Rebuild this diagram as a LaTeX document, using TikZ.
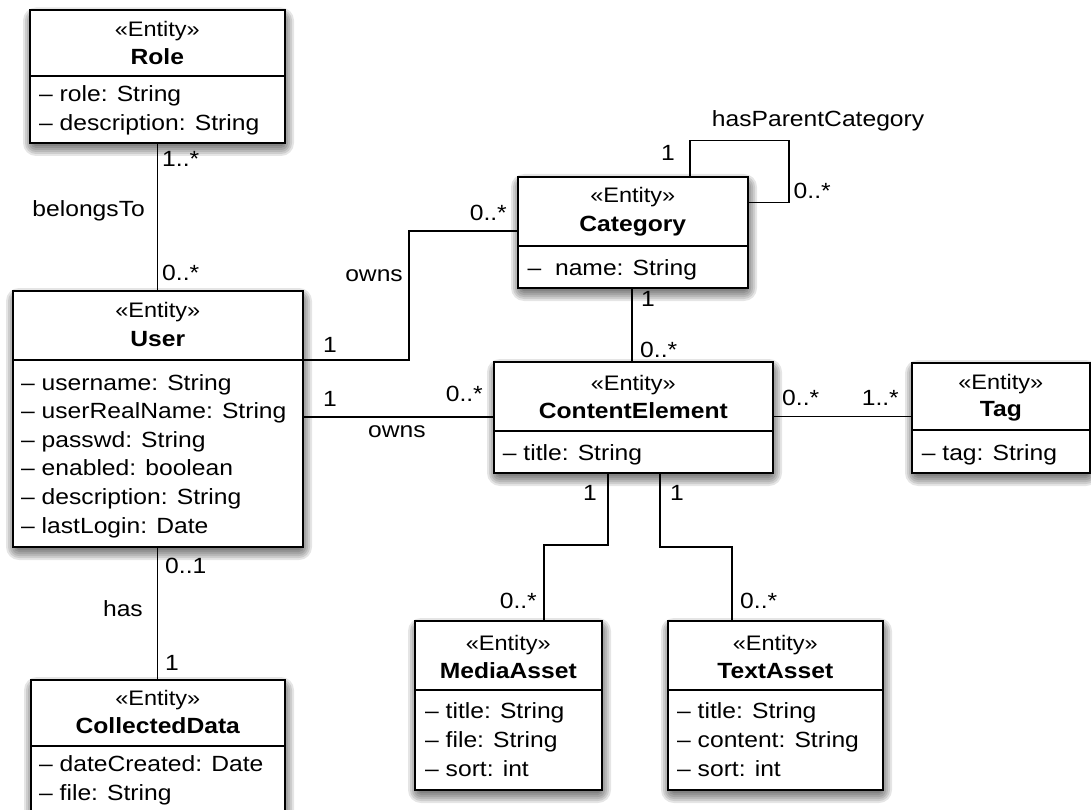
\documentclass[tikz,border=0pt]{standalone}
\usepackage{fontspec}
\setmainfont{Liberation Sans}[FakeStretch=1.12]

\pgfdeclarelayer{background}
\pgfsetlayers{background,main}

\tikzset{
  clsbox/.style={draw=black, line width=1.6pt, fill=white, inner sep=0pt},
  softshade/.style={fill=black, opacity=0.1},
  divline/.style={line width=1.6pt},
  assoc/.style={line width=1.3pt},
  txt/.style={inner sep=0pt, font=\fontsize{22}{26}\selectfont},
  stereo/.style={inner sep=0pt, font=\fontsize{21}{25}\selectfont, anchor=base},
  cname/.style={inner sep=0pt, font=\fontsize{22}{26}\selectfont\bfseries, anchor=base},
}

% box with a soft drop shadow: name, x1, y1, x2, y2, divider y
\newcommand\classbox[6]{%
  \foreach \d in {-4,-2,0,2,4,6,8}
    \fill[softshade, rounded corners={(\d+5)*1pt}]
      ({#2+2-\d},{#3+6-\d}) rectangle ({#4+2+\d},{#5+6+\d});
  \node[clsbox, minimum width={#4pt-#2pt}, minimum height={#5pt-#3pt},
        anchor=north west] (#1) at (#2,#3) {};
  \draw[divline] (#1.west |- 0,#6) -- (#1.east |- 0,#6);
}
% head: name, title, stereotype baseline, title baseline
\newcommand\classhead[4]{%
  \node[stereo] (#1-st) at (#1.north |- 0,#3) {«Entity»};
  \node[cname] (#1-nm) at (#1.north |- 0,#4) {#2};
}
% attributes: name, x, first baseline, line step, list
\newcommand\classattrs[5]{%
  \foreach \a [count=\i] in {#5}
    \node[txt, anchor=base west] (#1-a\i) at (#2,{#3+(\i-1)*#4}) {\textendash\ \a};
}

\begin{document}
\begin{tikzpicture}[x=1pt,y=-1pt]
  \begin{pgfonlayer}{background}
    \path[use as bounding box, fill=white] (0,0) rectangle (1091,810);
  \end{pgfonlayer}
  \clip (0,0) rectangle (1091,810);

  % ---------- classes ----------
  \classbox{role}{29}{9.5}{284}{142}{76}
  \classhead{role}{Role}{36.7}{65}
  \classattrs{role}{39}{101.7}{29}{role: String, description: String}

  \classbox{user}{12}{290}{302}{546}{360}
  \classhead{user}{User}{317.7}{346.7}
  \classattrs{user}{21}{390}{28.6}{username: String, userRealName: String,
    passwd: String, enabled: boolean, description: String, lastLogin: Date}

  \classbox{collected}{30}{679}{284}{850}{746}
  \classhead{collected}{CollectedData}{705}{733}
  \classattrs{collected}{39}{771.7}{28.5}{dateCreated: Date, file: String}

  \classbox{category}{517}{176}{747}{287}{246}
  \classhead{category}{Category}{203}{231.7}
  \node[txt, anchor=base west] (category-a1) at (527.5,275) {\textendash\ \ name: String};

  \classbox{content}{493}{361}{772}{472}{431}
  \classhead{content}{ContentElement}{390}{418}
  \classattrs{content}{502.7}{460}{28.6}{title: String}

  \classbox{tag}{911}{362}{1089}{472}{430}
  \classhead{tag}{Tag}{389.5}{416}
  \classattrs{tag}{921.7}{460}{28.6}{tag: String}

  \classbox{media}{414}{620}{601}{789}{690}
  \classhead{media}{MediaAsset}{650}{678.3}
  \classattrs{media}{425}{718.3}{29.2}{title: String, file: String, sort: int}

  \classbox{textasset}{667}{620}{882}{789}{690}
  \classhead{textasset}{TextAsset}{650}{678.3}
  \classattrs{textasset}{677}{718.3}{29.2}{title: String, content: String, sort: int}

  % ---------- associations (beneath the boxes and their shadows) ----------
  \begin{pgfonlayer}{background}
    \draw[assoc] (role.south -| user.north) -- (user.north);
    \draw[assoc] (user.south) -- (collected.north);
    \draw[assoc] (user.east |- 0,360) -| (409,231) -- (category.west |- 0,231);
    \draw[assoc] (user.east |- 0,417) -- (content.west |- 0,417);
    \draw[assoc] (category.south -| 632,0) -- (content.north -| 632,0);
    \draw[assoc] (category.north -| 690,0) |- (789,140.7) |- (category.east |- 0,202.7);
    \draw[assoc] (content.east |- 0,416.7) -- (tag.west |- 0,416.7);
    \draw[assoc] (content.south -| 608,0) |- (544,545) -- (media.north -| 544,0);
    \draw[assoc] (content.south -| 660,0) |- (732,547) -- (textasset.north -| 732,0);
  \end{pgfonlayer}

  % ---------- association labels ----------
  \node[txt, anchor=base west] (m1) at (162,167) {1..*};
  \node[txt, anchor=base west] (m2) at (162,280) {0..*};
  \node[txt, anchor=base east] (r1) at (145,216.7) {belongsTo};

  \node[txt, anchor=base west] (m3) at (165,573) {0..1};
  \node[txt, anchor=base east] (r2) at (143,616) {has};
  \node[txt, anchor=base west] (m4) at (165,670) {1};

  \node[txt, anchor=base west] (m5) at (323,352.7) {1};
  \node[txt, anchor=base east] (m6) at (507,220.7) {0..*};
  \node[txt, anchor=base east] (r3) at (403,281.7) {owns};

  \node[txt, anchor=base west] (m7) at (323,406.7) {1};
  \node[txt, anchor=base east] (m8) at (483,401.7) {0..*};
  \node[txt, anchor=base] (r4) at (397,437.3) {owns};

  \node[txt, anchor=base west] (m9) at (641,306.7) {1};
  \node[txt, anchor=base west] (m10) at (640,357.3) {0..*};

  \node[txt, anchor=base east] (m11) at (675,161) {1};
  \node[txt, anchor=base west] (m12) at (793.5,198.3) {0..*};
  \node[txt, anchor=base west] (r5) at (711.7,126.7) {hasParentCategory};

  \node[txt, anchor=base west] (m13) at (782,405) {0..*};
  \node[txt, anchor=base east] (m14) at (899,405) {1..*};

  \node[txt, anchor=base east] (m15) at (597,500) {1};
  \node[txt, anchor=base east] (m16) at (537,608) {0..*};
  \node[txt, anchor=base west] (m17) at (670,500) {1};
  \node[txt, anchor=base west] (m18) at (740,608) {0..*};
\end{tikzpicture}
\end{document}
